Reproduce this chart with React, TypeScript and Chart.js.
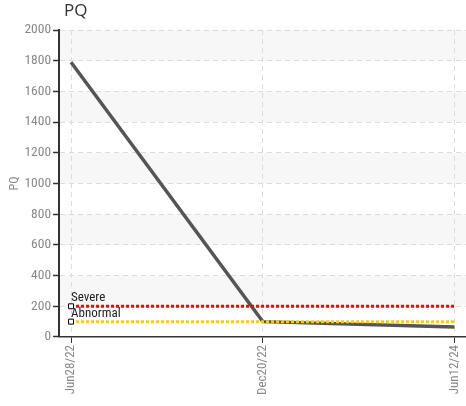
import { useEffect, useRef } from "react";
import { Chart, registerables } from "chart.js";

Chart.register(...registerables);

const chartTitle = "PQ";
const yAxisTitle = "PQ";
const categories = ["Jun28/22", "Dec20/22", "Jun12/24"];
const pqValues = [1790, 100, 65];
const severeValues = [200, 200, 200];
const abnormalValues = [100, 100, 100];
const thresholdNames = ["Severe", "Abnormal"];
const yMin = 0;
const yMax = 2000;
const yStep = 200;

const FONT = "'Roboto Condensed', 'Liberation Sans Narrow', Roboto, sans-serif";

const bandsPlugin = {
  id: "bands",
  beforeDraw(chart: any) {
    const { ctx, chartArea, scales } = chart;
    const y = scales.y;
    ctx.save();
    ctx.fillStyle = "#f7f7f7";
    for (let v = yMin; v < yMax; v += yStep) {
      const idx = Math.round((v - yMin) / yStep);
      if (idx % 2 === 1) {
        const top = y.getPixelForValue(v + yStep);
        const bot = y.getPixelForValue(v);
        ctx.fillRect(chartArea.left, top, chartArea.right - chartArea.left, bot - top);
      }
    }
    ctx.restore();
  },
};

const titlePlugin = {
  id: "customTitle",
  afterDraw(chart: any) {
    const { ctx, chartArea } = chart;
    ctx.save();
    ctx.font = "17px 'Open Sans', 'Noto Sans', sans-serif";
    ctx.fillStyle = "#333";
    ctx.textBaseline = "middle";
    ctx.textAlign = "left";
    ctx.fillText(chartTitle, chartArea.left + 5, 11);
    ctx.restore();
  },
};

const thresholdLabelPlugin = {
  id: "thresholdLabels",
  afterDatasetsDraw(chart: any) {
    const { ctx } = chart;
    ctx.save();
    ctx.font = `13px ${FONT}`;
    ctx.fillStyle = "#222";
    ctx.textAlign = "left";
    ctx.textBaseline = "alphabetic";
    chart.data.datasets.forEach((ds: any, i: number) => {
      if (!thresholdNames.includes(ds.label)) return;
      const meta = chart.getDatasetMeta(i);
      const pt = meta.data[0];
      if (!pt) return;
      ctx.fillText(ds.label, pt.x, pt.y - 5);
    });
    ctx.restore();
  },
};

export default function App() {
  const canvasRef = useRef<HTMLCanvasElement | null>(null);

  useEffect(() => {
    if (!canvasRef.current) return;
    const toPoints = (arr: number[]) => arr.map((v, i) => ({ x: i, y: v }));
    const chart = new Chart(canvasRef.current, {
      type: "line",
      data: {
        datasets: [
          {
            label: thresholdNames[0],
            data: toPoints(severeValues),
            borderColor: "#ff0000",
            borderWidth: 3,
            borderDash: [3, 2],
            pointRadius: [3.5, 0, 0],
            pointStyle: "rect",
            pointBackgroundColor: "#fff",
            pointBorderColor: "#000",
            pointBorderWidth: 1,
            fill: false,
            tension: 0,
            order: 1,
          },
          {
            label: thresholdNames[1],
            data: toPoints(abnormalValues),
            borderColor: "#ffcc00",
            borderWidth: 3,
            borderDash: [3, 2],
            pointRadius: [3.5, 0, 0],
            pointStyle: "rect",
            pointBackgroundColor: "#fff",
            pointBorderColor: "#000",
            pointBorderWidth: 1,
            fill: false,
            tension: 0,
            order: 2,
          },
          {
            label: "PQ",
            data: toPoints(pqValues),
            borderColor: "#555555",
            borderWidth: 3.5,
            pointRadius: 0,
            fill: false,
            tension: 0,
            order: 3,
          },
        ],
      },
      options: {
        animation: false,
        responsive: true,
        maintainAspectRatio: false,
        layout: { autoPadding: false, padding: { left: 8, top: 30, right: 0, bottom: 9 } },
        plugins: {
          legend: { display: false },
          tooltip: { enabled: false },
          title: { display: false },
        },
        scales: {
          x: {
            type: "linear",
            min: -0.0625,
            max: 2.06,
            afterBuildTicks: (axis: any) => {
              axis.ticks = categories.map((_, i) => ({ value: i }));
            },
            afterFit: (axis: any) => {
              axis.paddingRight = 0;
              axis.paddingLeft = 0;
            },
            ticks: {
              callback: (v: any) => categories[Math.round(Number(v))] ?? "",
              minRotation: 90,
              maxRotation: 90,
              color: "#888",
              font: { family: FONT, size: 13 },
              padding: 2,
            },
            grid: {
              color: "#dcdcdc",
              lineWidth: 1,
              tickColor: "#333",
              tickLength: 6,
              tickWidth: 1,
              tickBorderDash: [],
              drawOnChartArea: true,
            },
            border: { display: true, color: "#333", width: 1.5, dash: [5, 4] },
          },
          y: {
            type: "linear",
            min: yMin,
            max: yMax,
            ticks: {
              stepSize: yStep,
              callback: (v: any) => String(v),
              color: "#888",
              font: { family: FONT, size: 13.5 },
              padding: 2,
            },
            title: {
              display: true,
              text: yAxisTitle,
              color: "#888",
              font: { family: FONT, size: 12 },
              padding: 0,
            },
            grid: {
              color: "#dcdcdc",
              lineWidth: 1,
              tickColor: "#333",
              tickLength: 6,
              tickWidth: 1.5,
              tickBorderDash: [],
            },
            border: { display: true, color: "#333", width: 2, dash: [5, 4] },
          },
        },
      },
      plugins: [bandsPlugin, titlePlugin, thresholdLabelPlugin],
    });
    return () => chart.destroy();
  }, []);

  return (
    <div style={{ position: "fixed", left: 0, top: 0, width: 466, height: 406, background: "#fff" }}>
      <canvas ref={canvasRef} />
    </div>
  );
}
